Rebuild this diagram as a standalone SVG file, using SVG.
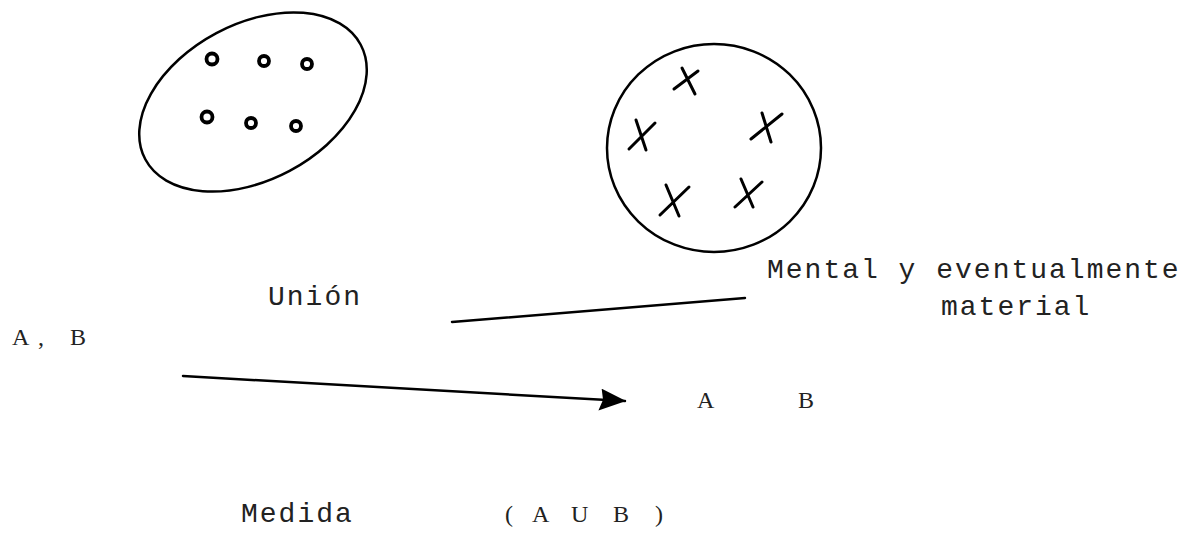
<svg xmlns="http://www.w3.org/2000/svg" width="1199" height="537" viewBox="0 0 1199 537">
<style>
.sk{fill:none;stroke:#000;stroke-width:2.5;stroke-linecap:round;stroke-linejoin:round}
.dot{fill:none;stroke:#000;stroke-width:3.8}
.x{fill:none;stroke:#000;stroke-width:3;stroke-linecap:round}
.tm{font-family:"Liberation Mono","DejaVu Sans Mono",monospace;font-size:28px;fill:#222;letter-spacing:2px}
.ts{font-family:"Liberation Serif","DejaVu Serif",serif;font-size:24px;fill:#222}
</style>
<defs>
<marker id="ah2" viewBox="0 0 27 22" refX="26" refY="11" markerWidth="27" markerHeight="22" markerUnits="userSpaceOnUse" orient="auto">
<path d="M2,0 L27,11 L0,22 L4,11 Z" fill="#000"/>
</marker>
</defs>
<rect width="1199" height="537" fill="#fff"/>
<g id="set-circles">
<ellipse class="sk" cx="253" cy="102" rx="122" ry="78" transform="rotate(-28 253 102)"/>
<circle class="dot" cx="212" cy="59" r="5.5"/>
<circle class="dot" cx="264" cy="61" r="5"/>
<circle class="dot" cx="307" cy="64" r="5"/>
<circle class="dot" cx="207" cy="117" r="5.5"/>
<circle class="dot" cx="251" cy="123" r="5"/>
<circle class="dot" cx="296" cy="126" r="5"/>
</g>
<g id="set-crosses">
<ellipse class="sk" cx="714" cy="148" rx="107" ry="104"/>
<path class="x" d="M674,89 L698,71 M682,68 L695,94"/>
<path class="x" d="M629,149 L655,123 M636,120 L646,150"/>
<path class="x" d="M751,139 L782,114 M762,113 L771,142"/>
<path class="x" d="M660,215 L689,187 M666,185 L679,216"/>
<path class="x" d="M735,207 L762,182 M741,179 L753,207"/>
</g>
<g id="connectors">
<path class="sk" d="M452,322 L745,298"/>
<path class="sk" d="M183,376 L625,401" marker-end="url(#ah2)"/>
</g>
<g id="label-union"><text class="tm" x="268" y="305">Unión</text></g>
<g id="label-ab"><text class="ts" x="12" y="345">A<tspan x="38">,</tspan><tspan x="70">B</tspan></text></g>
<g id="label-mental">
<text class="tm" x="767" y="278">Mental y eventualmente</text>
<text class="tm" x="941" y="315">material</text>
</g>
<g id="label-ab2"><text class="ts" x="697" y="408">A<tspan x="798">B</tspan></text></g>
<g id="label-medida"><text class="tm" x="241" y="522">Medida</text></g>
<g id="label-aub"><text class="ts" x="505" y="522">(<tspan x="532">A</tspan><tspan x="571">U</tspan><tspan x="613">B</tspan><tspan x="655">)</tspan></text></g>
</svg>
